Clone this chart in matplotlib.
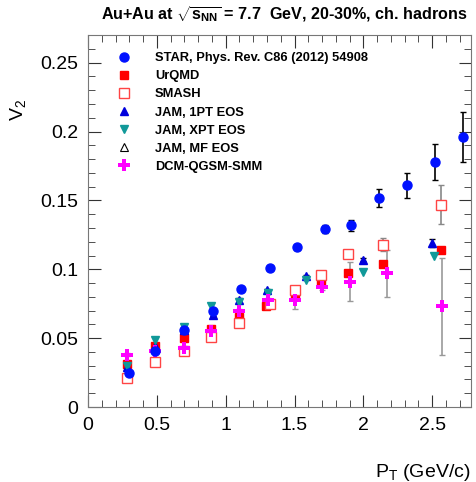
import matplotlib
matplotlib.use("Agg")
import matplotlib.pyplot as plt
from matplotlib.ticker import MultipleLocator

plt.rcParams['font.family'] = ['Liberation Sans', 'DejaVu Sans']
plt.rcParams['mathtext.fontset'] = 'custom'
plt.rcParams['mathtext.rm'] = 'Liberation Sans'
plt.rcParams['mathtext.bf'] = 'Liberation Sans:bold'

# STAR data
star_x = [0.30, 0.49, 0.70, 0.91, 1.11, 1.32, 1.52, 1.72, 1.91, 2.11, 2.32, 2.52, 2.72]
star_y = [0.025, 0.041, 0.056, 0.070, 0.086, 0.101, 0.116, 0.129, 0.132, 0.152, 0.161, 0.178, 0.196]
star_err = [0.001, 0.001, 0.001, 0.001, 0.001, 0.001, 0.002, 0.003, 0.004, 0.0065, 0.009, 0.013, 0.018]

# UrQMD
urqmd_x = [0.28, 0.49, 0.70, 0.89, 1.10, 1.29, 1.50, 1.69, 1.89, 2.14, 2.56]
urqmd_y = [0.031, 0.044, 0.050, 0.057, 0.065, 0.073, 0.082, 0.090, 0.097, 0.104, 0.114]

# SMASH
smash_x = [0.28, 0.49, 0.70, 0.89, 1.10, 1.32, 1.50, 1.69, 1.89, 2.14, 2.56]
smash_y = [0.021, 0.033, 0.041, 0.051, 0.061, 0.075, 0.085, 0.096, 0.111, 0.118, 0.147]
smash_err = [0.001, 0.001, 0.001, 0.001, 0.001, 0.001, 0.001, 0.002, 0.002, 0.005, 0.014]

# JAM 1PT
jam1_x = [0.28, 0.49, 0.70, 0.91, 1.10, 1.30, 1.58, 2.00, 2.50]
jam1_y = [0.029, 0.044, 0.056, 0.067, 0.078, 0.085, 0.095, 0.107, 0.119]
jam1_err = [0.001, 0.001, 0.001, 0.001, 0.001, 0.001, 0.001, 0.001, 0.003]

# JAM XPT
jamx_x = [0.28, 0.49, 0.70, 0.89, 1.10, 1.31, 1.58, 2.00, 2.51]
jamx_y = [0.030, 0.049, 0.058, 0.073, 0.076, 0.083, 0.092, 0.098, 0.110]
jamx_err = [0.001, 0.001, 0.001, 0.001, 0.001, 0.001, 0.001, 0.001, 0.003]

# JAM MF (no points visible in the plotted range)
jammf_x = []
jammf_y = []

# DCM-QGSM-SMM
dcm_x = [0.28, 0.49, 0.70, 0.89, 1.10, 1.31, 1.50, 1.70, 1.90, 2.17, 2.57]
dcm_y = [0.038, 0.041, 0.043, 0.055, 0.070, 0.078, 0.078, 0.087, 0.091, 0.097, 0.073]
dcm_err = [0.001, 0.001, 0.001, 0.001, 0.001, 0.001, 0.007, 0.002, 0.014, 0.017, 0.035]

fig = plt.figure(figsize=(4.77, 4.82), dpi=100)
ax = fig.add_axes([0.1845, 0.1556, 0.8025, 0.7714])

ax.errorbar(smash_x, smash_y, yerr=smash_err, fmt='none', ecolor='#888888', elinewidth=1.2, capsize=2)
ax.errorbar(dcm_x, dcm_y, yerr=dcm_err, fmt='none', ecolor='#999999', elinewidth=1.2, capsize=2)
ax.errorbar(star_x, star_y, yerr=star_err, fmt='none', ecolor='black', elinewidth=1.2, capsize=2)
ax.errorbar(jam1_x, jam1_y, yerr=jam1_err, fmt='none', ecolor='black', elinewidth=1, capsize=2)

ax.plot(urqmd_x, urqmd_y, 's', color='red', ms=6, label='UrQMD', zorder=3)
ax.plot(smash_x, smash_y, 's', mfc='white', mec='#ff4444', mew=1, ms=7, label='SMASH', zorder=3)
ax.plot(jam1_x, jam1_y, '^', color='#0000dd', ms=6, label='JAM, 1PT EOS', zorder=4)
ax.plot(jamx_x, jamx_y, 'v', color='#119999', ms=6, label='JAM, XPT EOS', zorder=4)
ax.plot(jammf_x, jammf_y, '^', mfc='white', mec='black', mew=0.8, ms=6, label='JAM, MF EOS', zorder=4)
ax.plot(dcm_x, dcm_y, 'P', color='magenta', ms=8, mew=0, label='DCM-QGSM-SMM', zorder=5)
ax.plot(star_x, star_y, 'o', color='#0011ff', ms=6.5, label='STAR, Phys. Rev. C86 (2012) 54908', zorder=6)

handles, labels = ax.get_legend_handles_labels()
order = [6, 0, 1, 2, 3, 4, 5]
ax.legend([handles[i] for i in order], [labels[i] for i in order],
          loc='upper left', bbox_to_anchor=(0.04, 0.975), frameon=False,
          prop={'weight': 'bold', 'size': 9.3}, handletextpad=1.4,
          labelspacing=0.47, borderaxespad=0.2)

ax.set_xlim(0, 2.78)
ax.set_ylim(0, 0.27)
ax.xaxis.set_minor_locator(MultipleLocator(0.1))
ax.yaxis.set_minor_locator(MultipleLocator(0.01))
ax.set_xticks([0, 0.5, 1, 1.5, 2, 2.5])
ax.set_xticklabels(['0', '0.5', '1', '1.5', '2', '2.5'])
ax.set_yticks([0, 0.05, 0.1, 0.15, 0.2, 0.25])
ax.set_yticklabels(['0', '0.05', '0.1', '0.15', '0.2', '0.25'])
ax.tick_params(which='both', direction='in', top=True, right=True, labelsize=14, color='#333333')
ax.tick_params(which='major', length=9, pad=7)
ax.tick_params(which='minor', length=5)
for s in ax.spines.values():
    s.set_color('#777777')

ax.set_xlabel(r'P$_\mathregular{T}$ (GeV/c)', fontsize=14, loc='right', labelpad=20)
ax.set_ylabel(r'V$_\mathregular{2}$', fontsize=14)
ax.yaxis.set_label_coords(-0.155, 0.80)

fig.text(0.596, 0.971, r'Au+Au at $\sqrt{\mathbf{s}_{\mathbf{NN}}}$ = 7.7  GeV, 20-30%, ch. hadrons',
         ha='center', va='center', fontsize=11.6, fontweight='bold')

fig.savefig('out.png', dpi=100)
